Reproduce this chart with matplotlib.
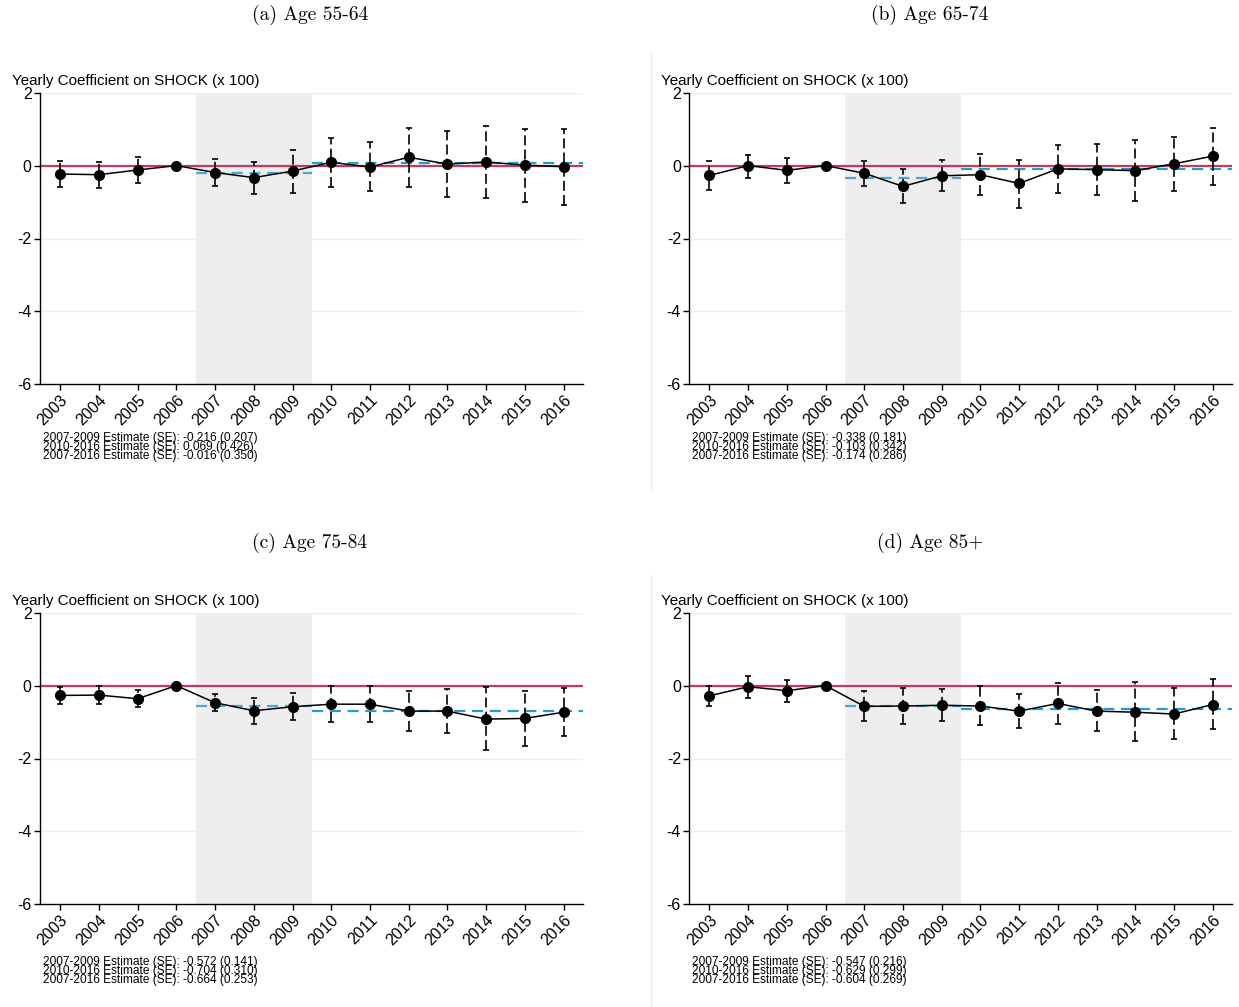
import numpy as np
import matplotlib
matplotlib.use("Agg")
import matplotlib.pyplot as plt
from matplotlib.lines import Line2D

plt.rcParams['font.family'] = ['Liberation Sans', 'DejaVu Sans']
plt.rcParams['axes.unicode_minus'] = False

years = list(range(2003, 2017))
year_labels = [str(y) for y in years]

titles = ['(a) Age 55-64', '(b) Age 65-74', '(c) Age 75-84', '(d) Age 85+']

# point estimates and 95% CI bounds (2006 is the reference year)
est_a = [-0.23, -0.25, -0.12, 0.0, -0.19, -0.33, -0.15, 0.09, -0.04, 0.23, 0.04, 0.10, 0.01, -0.03]
hi_a = [0.12, 0.10, 0.24, np.nan, 0.18, 0.11, 0.42, 0.76, 0.64, 1.03, 0.95, 1.09, 1.00, 1.00]
lo_a = [-0.59, -0.61, -0.48, np.nan, -0.57, -0.78, -0.75, -0.58, -0.71, -0.58, -0.87, -0.88, -1.00, -1.08]

est_b = [-0.27, 0.0, -0.13, 0.0, -0.21, -0.57, -0.28, -0.25, -0.49, -0.09, -0.11, -0.14, 0.05, 0.26]
hi_b = [0.13, 0.30, 0.20, np.nan, 0.13, -0.10, 0.14, 0.33, 0.16, 0.56, 0.59, 0.70, 0.78, 1.02]
lo_b = [-0.68, -0.33, -0.48, np.nan, -0.55, -1.02, -0.69, -0.81, -1.15, -0.74, -0.82, -0.97, -0.69, -0.52]

est_c = [-0.27, -0.26, -0.36, 0.0, -0.47, -0.69, -0.58, -0.51, -0.51, -0.70, -0.70, -0.92, -0.90, -0.73]
hi_c = [-0.05, -0.02, -0.13, np.nan, -0.24, -0.34, -0.21, 0.0, -0.02, -0.16, -0.08, -0.05, -0.14, -0.07]
lo_c = [-0.51, -0.50, -0.60, np.nan, -0.70, -1.04, -0.94, -1.01, -1.00, -1.25, -1.31, -1.78, -1.66, -1.39]

est_d = [-0.28, -0.03, -0.14, 0.0, -0.57, -0.56, -0.54, -0.56, -0.70, -0.49, -0.70, -0.73, -0.78, -0.52]
hi_d = [0.0, 0.27, 0.16, np.nan, -0.16, -0.06, -0.10, -0.01, -0.22, 0.06, -0.13, 0.09, -0.06, 0.17]
lo_d = [-0.55, -0.33, -0.44, np.nan, -0.98, -1.05, -0.97, -1.09, -1.16, -1.04, -1.24, -1.53, -1.46, -1.20]

# pooled estimates: 2007-2009, 2010-2016, 2007-2016 (estimate, SE)
pooled_a = [(-0.216, 0.207), (0.069, 0.426), (-0.016, 0.350)]
pooled_b = [(-0.338, 0.181), (-0.103, 0.342), (-0.174, 0.286)]
pooled_c = [(-0.572, 0.141), (-0.704, 0.310), (-0.664, 0.253)]
pooled_d = [(-0.547, 0.216), (-0.629, 0.299), (-0.604, 0.269)]
pooled_labels = ['2007-2009', '2010-2016', '2007-2016']

W, H = 1239, 1007
fig = plt.figure(figsize=(W / 100, H / 100), dpi=100)


def fx(px):
    return px / W


def fy(py):
    return 1 - py / H


panels = [
    (est_a, hi_a, lo_a, pooled_a, 40, 583, 92.7, 384.3, 310, 15, 432),
    (est_b, hi_b, lo_b, pooled_b, 689.3, 1232, 92.7, 384.3, 930, 15, 432),
    (est_c, hi_c, lo_c, pooled_c, 40, 583, 612.7, 904.3, 310, 543, 956),
    (est_d, hi_d, lo_d, pooled_d, 689.3, 1232, 612.7, 904.3, 930, 543, 956),
]

for i, (est, hi, lo, pooled, x0, x1, y0, y1, tx, ty, ny) in enumerate(panels):
    ax = fig.add_axes([fx(x0), fy(y1), fx(x1 - x0), (y1 - y0) / H])
    est = np.array(est)
    hi = np.array(hi)
    lo = np.array(lo)
    yrs = np.array(years)

    ax.axvspan(2006.5, 2009.5, color='#eeeeee', lw=0, zorder=0)
    for g in [2, -2, -4]:
        ax.axhline(g, color='#e7f0f1', lw=1, zorder=0.5)
    ax.axhline(0, color='#c8385a', lw=1.6, zorder=1)

    ax.hlines(pooled[0][0], 2006.5, 2009.5, color='#4aa8d2', lw=1.6,
              linestyles=(0, (5, 3)), zorder=2)
    ax.hlines(pooled[1][0], 2009.5, 2016.5, color='#1f9bd6', lw=1.6,
              linestyles=(0, (5, 3)), zorder=2)

    m = ~np.isnan(hi)
    eb = ax.errorbar(yrs[m], est[m], yerr=[est[m] - lo[m], hi[m] - est[m]],
                     fmt='none', ecolor='black', elinewidth=1.2, capsize=2.5,
                     capthick=1.2, zorder=3)
    eb[2][0].set_linestyle((0, (6, 2.5)))

    ax.plot(yrs, est, '-o', color='black', lw=1.1, ms=7, zorder=4)

    ax.set_xlim(2002.48, 2016.5)
    ax.set_ylim(-6, 2)
    ax.set_yticks([-6, -4, -2, 0, 2])
    ax.set_yticklabels(['-6', '-4', '-2', '0', '2'], fontsize=11.5)
    ax.set_xticks(years)
    ax.set_xticklabels(year_labels, rotation=45, ha='right',
                       rotation_mode='anchor', fontsize=11.5)
    ax.tick_params(length=4, width=1, color='black', pad=2)
    for s in ['top', 'right']:
        ax.spines[s].set_visible(False)
    for s in ['left', 'bottom']:
        ax.spines[s].set_linewidth(1)
    ax.set_facecolor('none')

    fig.text(fx(x0 - 28), fy(y0 - 12), 'Yearly Coefficient on SHOCK (x 100)',
             fontsize=10.9, va='center', ha='left')
    fig.text(fx(tx), fy(ty), titles[i], family=['cmr10', 'DejaVu Serif'],
             fontsize=14, ha='center', va='center')
    note = '\n'.join('%s Estimate (SE): %.3f (%.3f)' % (pooled_labels[k], e, se)
                     for k, (e, se) in enumerate(pooled))
    fig.text(fx(x0 + 3), fy(ny), note, fontsize=8.6,
             ha='left', va='top', linespacing=0.68)

# faint borders on the left of the right-hand panels
fig.add_artist(Line2D([fx(650.7)] * 2, [fy(52), fy(490)], color='#e4eced', lw=1))
fig.add_artist(Line2D([fx(650.7)] * 2, [fy(575), fy(1007)], color='#e4eced', lw=1))

fig.savefig('out.png', dpi=100)
